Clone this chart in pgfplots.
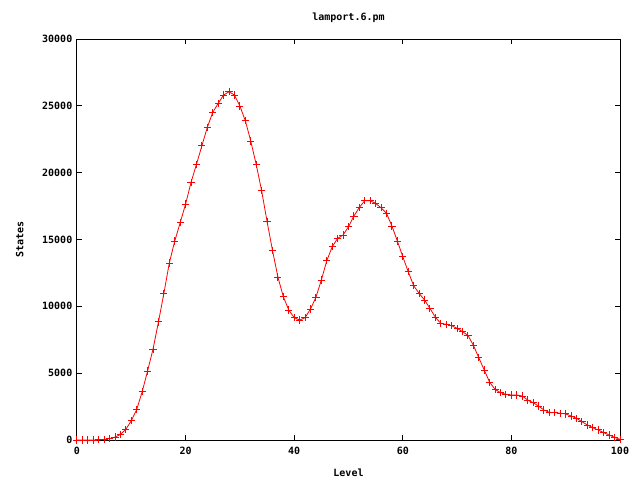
\documentclass[border=0pt]{standalone}
\usepackage{fontspec}
\setmonofont{DejaVu Sans Mono}
\usepackage{pgfplots}
\pgfplotsset{compat=1.18}
\pgfplotstableread{
L S
0 0
1 0
2 0
3 0
4 20
5 40
6 100
7 220
8 420
9 800
10 1440
11 2290
12 3610
13 5160
14 6800
15 8830
16 10970
17 13240
18 14885
19 16256
20 17653
21 19275
22 20622
23 22014
24 23390
25 24512
26 25185
27 25806
28 26055
29 25806
30 24984
31 23885
32 22366
33 20622
34 18650
35 16350
36 14190
37 12190
38 10719
39 9724
40 9150
41 8976
42 9150
43 9799
44 10673
45 11968
46 13412
47 14460
48 15086
49 15335
50 15958
51 16755
52 17405
53 17902
54 17902
55 17704
56 17370
57 16957
58 16007
59 14885
60 13711
61 12589
62 11542
63 10973
64 10472
65 9851
66 9178
67 8729
68 8654
69 8550
70 8355
71 8101
72 7832
73 7084
74 6150
75 5236
76 4315
77 3790
78 3540
79 3415
80 3366
81 3366
82 3290
83 2990
84 2790
85 2540
86 2244
87 2070
88 2050
89 2000
90 1950
91 1795
92 1620
93 1370
94 1120
95 920
96 750
97 550
98 374
99 200
100 50
}\data
\usepackage{pgfplotstable}
\begin{document}
\begin{tikzpicture}
\useasboundingbox (-57.75pt,-30pt) rectangle (422.25pt,330pt);
\begin{axis}[
  at={(0,0)}, anchor=south west,
  scale only axis, width=407.25pt, height=300.75pt,
  xmin=0, xmax=100, ymin=0, ymax=30000,
  xtick={0,20,40,60,80,100},
  ytick={0,5000,10000,15000,20000,25000,30000},
  scaled y ticks=false,
  /pgf/number format/.cd, set thousands separator={}, assume math mode=true, /pgfplots/.cd,
  tick label style={font=\fontsize{7.5}{8}\selectfont\ttfamily\bfseries},
  xticklabel style={yshift=-2pt},
  label style={font=\fontsize{7.5}{8}\selectfont\ttfamily\bfseries},
  xlabel={Level},
  xlabel style={at={(axis description cs:0.5,-0.0823)}, anchor=center},
  ylabel={States},
  ylabel style={at={(axis description cs:-0.1056,0.5)}, anchor=center},
  tick align=inside,
  major tick length=4pt,
  axis line style={line width=0.75pt},
  tick style={black, line width=0.75pt},
  clip=false,
]
\addplot[draw=red, line width=0.6pt, mark=none,
  error bars/.cd, x dir=both, x fixed=0.66, y dir=both, y fixed=270,
  error mark=none, error bar style={draw=red, line width=0.75pt}] table[x=L, y=S] {\data};
\node[font=\fontsize{7.5}{8}\selectfont\ttfamily\bfseries, anchor=center, yshift=15.75pt] at (rel axis cs:0.5,1) {lamport.6.pm};
\end{axis}
\end{tikzpicture}
\end{document}
